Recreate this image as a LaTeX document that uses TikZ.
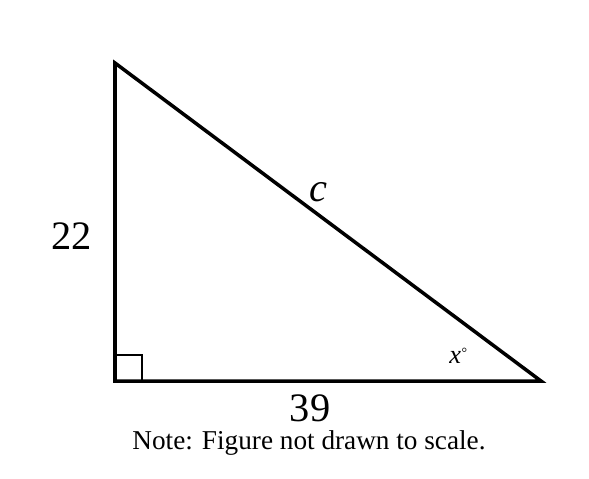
\documentclass[tikz,border=0pt]{standalone}
\usepackage{fontspec}
\setmainfont{Liberation Serif}
\begin{document}
\begin{tikzpicture}[
    x=0.02cm, y=-0.02cm,
    side/.style={line width=2pt, line join=miter},
    lbl/.style={font=\fontsize{23}{26}\selectfont},
    >=stealth
]
\useasboundingbox (0,0) rectangle (589,478);
\coordinate (A) at (115,63);
\coordinate (B) at (115,381);
\coordinate (C) at (541,381);

\draw[line width=0.9pt] (115,355) -- (142,355) -- (142,381);
\draw[side] (A) -- (B) -- (C) -- cycle;

\node[lbl] (h) at (72,236) {22};
\node[lbl] (w) at (310,408) {39};
\node[lbl] (c) at (318,192) {\itshape c};
\node[font=\fontsize{15}{18}\selectfont] (x) at (458,356) {\itshape x\raisebox{0.5ex}{\fontsize{8}{8}\selectfont\textdegree}};
\node[font=\fontsize{15.5}{18}\selectfont] (note) at (309,443) {Note: Figure not drawn to scale.};
\end{tikzpicture}
\end{document}
